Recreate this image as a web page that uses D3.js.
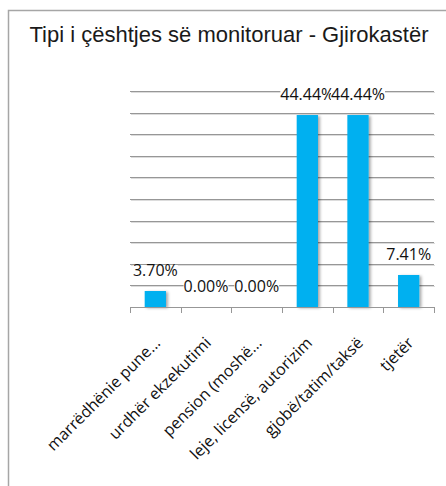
<!DOCTYPE html>
<html>
<head>
<meta charset="utf-8">
<script src="https://cdn.jsdelivr.net/npm/d3@7"></script>
<style>
  html, body { margin: 0; padding: 0; background: #fff; }
  svg { display: block; }
</style>
</head>
<body>
<svg id="chart" width="446" height="486"></svg>
<script>
// chart data
const titleText = "Tipi i çështjes së monitoruar - Gjirokastër";
const categories = ["marrëdhënie pune...", "urdhër ekzekutimi", "pension (moshë...", "leje, licensë, autorizim", "gjobë/tatim/taksë", "tjetër"];
const values = [0.0370, 0.0000, 0.0000, 0.4444, 0.4444, 0.0741];
const gridTicks = [0, 0.05, 0.10, 0.15, 0.20, 0.25, 0.30, 0.35, 0.40, 0.45, 0.50];

const svg = d3.select("#chart");
const plot = { left: 130, right: 434, top: 91, bottom: 307 };

// chart frame
svg.append("rect")
    .attr("x", 8.5).attr("y", 10.5)
    .attr("width", 460).attr("height", 500)
    .attr("fill", "#fff")
    .attr("stroke", "#a6a6a6")
    .attr("stroke-width", 1.5);

const defs = svg.append("defs");
const shadow = defs.append("filter").attr("id", "shadow")
    .attr("x", "-30%").attr("y", "-10%").attr("width", "160%").attr("height", "130%");
shadow.append("feDropShadow")
    .attr("dx", 2).attr("dy", 1).attr("stdDeviation", 1.5)
    .attr("flood-color", "#000").attr("flood-opacity", 0.35);

const x = d3.scaleBand()
    .domain(categories)
    .range([plot.left, plot.right])
    .paddingInner(0.58)
    .paddingOuter(0.29);

const y = d3.scaleLinear()
    .domain([0, 0.5])
    .range([plot.bottom, plot.top]);

// gridlines (light shadow line under a darker one)
const grid = svg.append("g");
grid.selectAll("line.sh")
    .data(gridTicks.slice(1))
    .enter().append("line")
    .attr("class", "sh")
    .attr("x1", plot.left + 1).attr("x2", plot.right + 1)
    .attr("y1", d => Math.round(y(d)) + 1.5)
    .attr("y2", d => Math.round(y(d)) + 1.5)
    .attr("stroke", "#dcdcdc");
grid.selectAll("line.gl")
    .data(gridTicks.slice(1))
    .enter().append("line")
    .attr("class", "gl")
    .attr("x1", plot.left).attr("x2", plot.right)
    .attr("y1", d => Math.round(y(d)) + 0.5)
    .attr("y2", d => Math.round(y(d)) + 0.5)
    .attr("stroke", "#979797");

// bars
svg.append("g")
    .selectAll("rect")
    .data(values)
    .enter().append("rect")
    .attr("x", (d, i) => x(categories[i]))
    .attr("width", x.bandwidth())
    .attr("y", d => y(d))
    .attr("height", d => y(0) - y(d))
    .attr("fill", "#00b0f0")
    .attr("filter", "url(#shadow)");

// category axis
const step = (plot.right - plot.left) / categories.length;
const axisG = svg.append("g");
axisG.append("line")
    .attr("x1", plot.left).attr("x2", plot.right)
    .attr("y1", plot.bottom + 0.5).attr("y2", plot.bottom + 0.5)
    .attr("stroke", "#979797");
axisG.selectAll("line.tick")
    .data(d3.range(categories.length + 1))
    .enter().append("line")
    .attr("class", "tick")
    .attr("x1", i => Math.round(plot.left + i * step) + 0.5)
    .attr("x2", i => Math.round(plot.left + i * step) + 0.5)
    .attr("y1", plot.bottom).attr("y2", plot.bottom + 6)
    .attr("stroke", "#979797");

axisG.selectAll("text")
    .data(categories)
    .enter().append("text")
    .attr("transform", d => `translate(${x(d) + x.bandwidth() / 2 + 6},${plot.bottom + 37}) rotate(-45)`)
    .attr("text-anchor", "end")
    .attr("font-family", "'Open Sans', sans-serif")
    .attr("font-size", 16)
    .attr("fill", "#111")
    .text(d => d);

// data labels
const fmt = d3.format(".2%");
const labels = svg.append("g")
    .selectAll("g")
    .data(values)
    .enter().append("g")
    .attr("transform", (d, i) => `translate(${x(categories[i]) + x.bandwidth() / 2},${y(d) - 15})`);
labels.append("text")
    .attr("text-anchor", "middle")
    .attr("font-family", "'Open Sans', sans-serif")
    .attr("font-size", 16)
    .attr("fill", "#111")
    .text(d => fmt(d));
labels.each(function () {
    const g = d3.select(this);
    const bb = g.select("text").node().getBBox();
    g.insert("rect", "text")
        .attr("x", bb.x).attr("y", -11)
        .attr("width", bb.width).attr("height", 14)
        .attr("fill", "#fff");
});

// title
svg.append("text")
    .attr("x", 229).attr("y", 42)
    .attr("text-anchor", "middle")
    .attr("font-family", "'Liberation Sans', Arial, sans-serif")
    .attr("font-size", 22)
    .attr("fill", "#1a1a1a")
    .text(titleText);
</script>
</body>
</html>
